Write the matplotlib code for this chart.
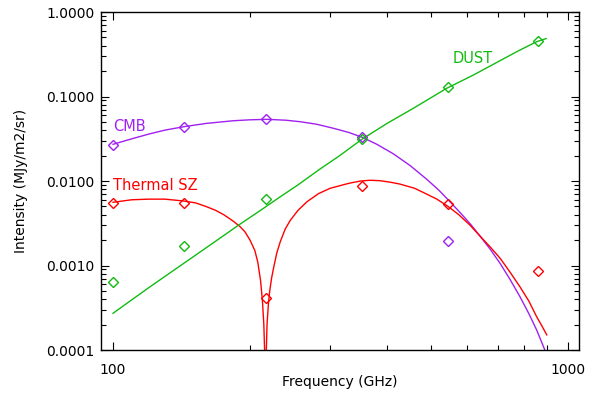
import numpy as np
import matplotlib
matplotlib.use('Agg')
import matplotlib.pyplot as plt
from matplotlib.ticker import FixedLocator, NullFormatter, FuncFormatter

# ─── Data ────────────────────────────────────────────────────────────────────

# Planck channels, diamonds
chan_freq = [100, 143, 217, 353, 545, 857]
cmb_pts   = [0.0267, 0.0436, 0.0547, 0.0334, 0.00195, np.nan]
sz_pts    = [0.00545, 0.00545, 0.000409, 0.00873, 0.0053, 0.000854]
dust_pts  = [0.000632, 0.00172, 0.00612, 0.0314, 0.1285, 0.454]

# model curves
cmb_freq = [100, 110, 120, 130, 143, 160, 184, 200, 218, 240, 258, 280, 305, 330,
            353, 380, 413, 450, 489, 520, 545, 580, 610, 641, 675, 709, 745, 784,
            820, 853, 886, 900]
cmb_val  = [0.0272, 0.0316, 0.0360, 0.0400, 0.0439, 0.0480, 0.0517, 0.0530, 0.0537,
            0.0524, 0.0503, 0.0470, 0.0421, 0.0375, 0.0329, 0.0272, 0.0210, 0.0152,
            0.0105, 0.0078, 0.0060, 0.0042, 0.0031, 0.00222, 0.00155, 0.00106,
            0.00069, 0.000428, 0.00027, 0.000173, 0.000105, 0.000085]

sz_freq = [100, 110, 120, 130, 143, 152, 160, 168, 175, 183, 190, 195, 200, 205,
           208, 211, 213, 214.5, 215.6, 216.3, 217, 218, 219.5, 221, 223, 225, 229,
           233, 239, 245, 255, 267, 283, 300, 330, 350, 367, 385, 406, 427, 460,
           489, 515, 545, 575, 609, 641, 675, 709, 745, 784, 820, 853, 875, 898]
sz_val  = [0.0056, 0.0060, 0.0061, 0.0061, 0.0058, 0.0055, 0.0050, 0.0045, 0.0040,
           0.0034, 0.0029, 0.0025, 0.0020, 0.0015, 0.0011, 0.00066, 0.00038, 0.0002,
           0.00008, 1e-7, 0.00008, 0.0002, 0.00035, 0.0005, 0.0007, 0.0009, 0.0014,
           0.0019, 0.0027, 0.0034, 0.0045, 0.0057, 0.0071, 0.0082, 0.0094, 0.0100,
           0.0102, 0.0101, 0.0097, 0.0092, 0.0082, 0.0070, 0.0061, 0.0050, 0.0040,
           0.0030, 0.00222, 0.00165, 0.00122, 0.00084, 0.00056, 0.00038, 0.000248,
           0.000195, 0.000151]

dust_freq = [100, 120, 143, 165, 188, 211, 233, 255, 283, 315, 353, 400, 460, 541,
             620, 700, 780, 853, 895]
dust_val  = [0.000272, 0.00055, 0.00106, 0.00181, 0.00296, 0.0045, 0.0065, 0.0090,
             0.0135, 0.020, 0.0314, 0.048, 0.074, 0.125, 0.18, 0.256, 0.35, 0.445,
             0.485]

C_CMB  = '#A020F0'
C_SZ   = '#FF0000'
C_DUST = '#11BB11'

# ─── Plot ────────────────────────────────────────────────────────────────────

plt.rcParams['font.family'] = 'DejaVu Sans'

fig = plt.figure(figsize=(5.89, 3.98), dpi=100)
ax = fig.add_axes([0.1715, 0.1206, 0.8115, 0.8492])

mk = dict(marker='D', markersize=4.6, markerfacecolor='none',
          markeredgewidth=1.0, linestyle='none')

ax.plot(cmb_freq, cmb_val, color=C_CMB, linewidth=1.0)
ax.plot(sz_freq, sz_val, color=C_SZ, linewidth=1.0)
ax.plot(dust_freq, dust_val, color=C_DUST, linewidth=1.0)

ax.plot(chan_freq, cmb_pts, color=C_CMB, **mk)
ax.plot(chan_freq, sz_pts, color=C_SZ, **mk)
ax.plot(chan_freq, dust_pts, color=C_DUST, **mk)

ax.set_xscale('log')
ax.set_yscale('log')
ax.set_xlim(94.1, 1057)
ax.set_ylim(0.0001, 1.0)

ax.text(100, 0.0394, 'CMB', color=C_CMB, fontsize=10.5, ha='left', va='baseline')
ax.text(100, 0.00782, 'Thermal SZ', color=C_SZ, fontsize=10.5, ha='left', va='baseline')
ax.text(558, 0.247, 'DUST', color=C_DUST, fontsize=10.5, ha='left', va='baseline')

# IDL-style ticks
ax.xaxis.set_major_locator(FixedLocator([100, 1000]))
ax.xaxis.set_minor_locator(FixedLocator([200, 300, 400, 500, 600, 700, 800, 900]))
ax.xaxis.set_major_formatter(FuncFormatter(lambda v, p: f'{v:.0f}'))
ax.xaxis.set_minor_formatter(NullFormatter())

ymaj = [1e-4, 1e-3, 1e-2, 1e-1, 1.0]
ymin = [m * d for d in [1e-4, 1e-3, 1e-2, 1e-1] for m in range(2, 10)]
ax.yaxis.set_major_locator(FixedLocator(ymaj))
ax.yaxis.set_minor_locator(FixedLocator(ymin))
ax.yaxis.set_major_formatter(FuncFormatter(lambda v, p: f'{v:.4f}'))
ax.yaxis.set_minor_formatter(NullFormatter())

ax.tick_params(which='both', direction='in', top=True, right=True,
               width=0.8, labelsize=10)
ax.tick_params(axis='y', which='major', length=6, pad=4.5)
ax.tick_params(axis='y', which='minor', length=3.5)
ax.tick_params(axis='x', which='major', length=6, pad=9)
ax.tick_params(axis='x', which='minor', length=3.5)

for s in ax.spines.values():
    s.set_linewidth(1.0)

ax.set_xlabel('Frequency (GHz)', fontsize=10)
ax.set_ylabel('Intensity (MJy/m2/sr)', fontsize=10)
ax.xaxis.set_label_coords(0.5, -0.075)
ax.yaxis.set_label_coords(-0.153, 0.5)

fig.savefig('out.png', dpi=100)
